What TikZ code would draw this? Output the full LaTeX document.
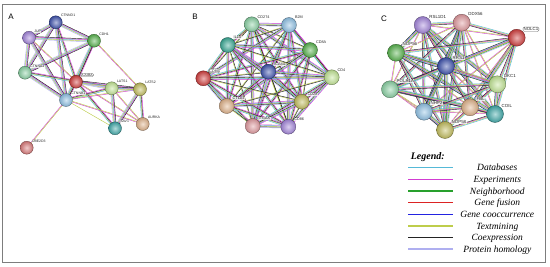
\documentclass[tikz,border=0pt]{standalone}
\usepackage{fontspec}
\setmainfont{Liberation Serif}
\setsansfont{Liberation Sans}
\usetikzlibrary{calc}
\pgfdeclarelayer{bg}
\pgfsetlayers{bg,main}
% edge evidence colours
\definecolor{edb}{RGB}{85,185,215}
\definecolor{eex}{RGB}{210,60,210}
\definecolor{enb}{RGB}{40,160,45}
\definecolor{efu}{RGB}{220,35,35}
\definecolor{eoc}{RGB}{35,35,225}
\definecolor{etm}{RGB}{190,205,75}
\definecolor{eco}{RGB}{35,35,35}
\definecolor{ehom}{RGB}{175,175,240}
% node colours
\definecolor{nblue}{RGB}{65,85,175}
\definecolor{npurple}{RGB}{165,135,220}
\definecolor{ngreen}{RGB}{90,180,80}
\definecolor{nmint}{RGB}{140,210,165}
\definecolor{nred}{RGB}{210,65,65}
\definecolor{nsky}{RGB}{145,195,230}
\definecolor{nlime}{RGB}{195,230,150}
\definecolor{nolive}{RGB}{195,190,95}
\definecolor{nteal}{RGB}{65,170,170}
\definecolor{ntan}{RGB}{225,180,140}
\definecolor{npink}{RGB}{220,125,125}
\definecolor{nrose}{RGB}{225,155,160}
\definecolor{nsea}{RGB}{60,170,150}
\definecolor{frame}{RGB}{125,125,125}
\def\LA{edb,eex,etm,eco,ehom}
\def\LB{etm,eco,edb,eex}
\def\LC{eex,etm}
\def\LD{etm}
\def\LE{etm,eco}
\def\LF{etm,edb,eco,eex,ehom}
\def\LG{eex,etm,edb,enb,eco,ehom}
\def\LH{eex,etm,eco,edb}
\newcommand{\edg}[3]{%
  \foreach \ec [count=\ei] in #3 {%
    \pgfmathsetmacro{\eoff}{(mod(\ei,2)==0 ? 1 : -1)*floor(\ei/2)*0.7}%
    \draw[\ec, line width=0.45pt] ($(#1)!\eoff pt!90:(#2)$) -- ($(#2)!\eoff pt!-90:(#1)$);%
  }%
}
\tikzset{
  prot/.style={circle, inner sep=0pt, line width=0.35pt},
  sph/.style={shading=radial, inner color=#1!40!white, outer color=#1!88!black, draw=#1!50!black},
  pA/.style={prot, minimum size=13pt},
  pB/.style={prot, minimum size=15pt},
  pC/.style={prot, minimum size=17pt},
  halo/.style={fill=white, fill opacity=0.75, text opacity=1, inner sep=0.4pt, text=black!85},
  labA/.style={halo, font=\sffamily\fontsize{3.5}{4}\selectfont},
  labB/.style={halo, font=\sffamily\fontsize{3.8}{4.4}\selectfont},
  labC/.style={halo, font=\sffamily\fontsize{4.4}{5}\selectfont},
  qbox/.style={draw=black!60, fill=white, fill opacity=1, rounded corners=1.2pt, inner sep=0.6pt, line width=0.3pt},
  panel/.style={font=\sffamily\fontsize{8}{9}\selectfont},
  legtxt/.style={font=\itshape\fontsize{9.5}{11}\selectfont, anchor=base},
}
\begin{document}
\begin{tikzpicture}[x=1pt,y=-1pt]
\useasboundingbox (0,0) rectangle (550,267);
\begin{pgfonlayer}{bg}
\fill[white] (0,0) rectangle (550,267);
\end{pgfonlayer}
\draw[frame, line width=1.5pt] (2.5,4.5) rectangle (545.5,262.5);
% panel letters
\node[panel] (lblA) at (11,16.7) {A};
\node[panel] (lblB) at (195,16.7) {B};
\node[panel] (lblC) at (384,18.3) {C};
% ---------- panel A ----------
\node[pA, sph=nblue, label={[labA]45:CTNND1}] (aCTNND1) at (55.7,22.3) {};
\node[pA, sph=npurple, label={[labA]45:JUP}] (aJUP) at (29,37.7) {};
\node[pA, sph=ngreen, label={[labA]45:CDH1}] (aCDH1) at (94,40.7) {};
\node[pA, sph=nmint, label={[labA]45:CTNNA1}] (aCTNNA1) at (25,72.7) {};
\node[pA, sph=nred, label={[labA,qbox]45:AJUBA}] (aAJUBA) at (76,81.7) {};
\node[pA, sph=nsky, label={[labA]45:CTNNB1}] (aCTNNB1) at (66,100) {};
\node[pA, sph=nlime, label={[labA]45:LATS1}] (aLATS1) at (111.7,88.3) {};
\node[pA, sph=nolive, label={[labA]45:LATS2}] (aLATS2) at (140,89.3) {};
\node[pA, sph=nteal, label={[labA]45:SAV1}] (aSAV1) at (115,128.3) {};
\node[pA, sph=ntan, label={[labA]45:AURKA}] (aAURKA) at (142.7,124) {};
\node[pA, sph=npink, label={[labA]45:UBE2D3}] (aUBE2D3) at (26.7,147.7) {};
% ---------- panel B ----------
\node[pB, sph=nmint, label={[labB]45:CD274}] (bCD274) at (251.7,24.3) {};
\node[pB, sph=nsky, label={[labB]45:B2M}] (bB2M) at (289,25) {};
\node[pB, sph=ngreen, label={[labB]45:CD8A}] (bCD8A) at (310,50) {};
\node[pB, sph=nsea, label={[labB]45:IL10}] (bIL10) at (227.7,45) {};
\node[pB, sph=nblue, label={[labB]45:ICAM1}] (bICAM1) at (268.3,71.7) {};
\node[pB, sph=nlime, label={[labB]45:CD4}] (bCD4) at (331.7,77.3) {};
\node[pB, sph=nred, label={[labB,qbox]45:CD80}] (bCD80) at (203.3,78.3) {};
\node[pB, sph=ntan, label={[labB]45:CTLA4}] (bCTLA4) at (226.7,106) {};
\node[pB, sph=nolive, label={[labB]45:CD28}] (bCD28) at (301.7,101.7) {};
\node[pB, sph=nrose, label={[labB]45:ITGAX}] (bITGAX) at (252.7,126) {};
\node[pB, sph=npurple, label={[labB]45:CD86}] (bCD86) at (288.3,126.7) {};
% ---------- panel C ----------
\node[pC, sph=npurple, label={[labC]45:RSL1D1}] (cRSL1D1) at (422.7,25) {};
\node[pC, sph=nrose, label={[labC]45:DDX56}] (cDDX56) at (461.7,22.7) {};
\node[pC, sph=nred, label={[labC,qbox]45:NOLC1}] (cNOLC1) at (516.7,37.7) {};
\node[pC, sph=ngreen, label={[labC]45:NOP56}] (cNOP56) at (396,52.7) {};
\node[pC, sph=nblue, label={[labC]45:RRS1}] (cRRS1) at (446,66) {};
\node[pC, sph=nmint, label={[labC]45:POLR1A}] (cPOLR1A) at (390,89.3) {};
\node[pC, sph=nlime, label={[labC]45:DKC1}] (cDKC1) at (497.3,84.3) {};
\node[pC, sph=nsky, label={[labC]45:NHP2}] (cNHP2) at (424,111.7) {};
\node[pC, sph=ntan, label={[labC]45:FBL}] (cFBL) at (470,107.3) {};
\node[pC, sph=nteal, label={[labC]45:COIL}] (cCOIL) at (495,114) {};
\node[pC, sph=nolive, label={[labC]45:NOP58}] (cNOP58) at (445,130) {};
% ---------- edges ----------
\begin{pgfonlayer}{bg}
\edg{aCTNND1}{aJUP}{\LA}
\edg{aCTNND1}{aCDH1}{\LA}
\edg{aCTNND1}{aCTNNA1}{\LA}
\edg{aCTNND1}{aAJUBA}{\LB}
\edg{aCTNND1}{aCTNNB1}{\LA}
\edg{aJUP}{aCDH1}{\LA}
\edg{aJUP}{aCTNNA1}{\LA}
\edg{aJUP}{aCTNNB1}{\LA}
\edg{aJUP}{aAJUBA}{\LC}
\edg{aCDH1}{aCTNNA1}{\LA}
\edg{aCDH1}{aCTNNB1}{\LA}
\edg{aCDH1}{aAJUBA}{\LB}
\edg{aCDH1}{aLATS2}{\LC}
\edg{aCTNNA1}{aCTNNB1}{\LA}
\edg{aCTNNA1}{aAJUBA}{\LB}
\edg{aAJUBA}{aCTNNB1}{\LB}
\edg{aAJUBA}{aLATS1}{\LA}
\edg{aAJUBA}{aLATS2}{\LA}
\edg{aAJUBA}{aSAV1}{\LB}
\edg{aAJUBA}{aAURKA}{\LC}
\edg{aCTNNB1}{aLATS1}{\LB}
\edg{aCTNNB1}{aLATS2}{\LC}
\edg{aCTNNB1}{aSAV1}{\LD}
\edg{aCTNNB1}{aAURKA}{\LC}
\edg{aCTNNB1}{aUBE2D3}{\LC}
\edg{aLATS1}{aLATS2}{\LA}
\edg{aLATS1}{aSAV1}{\LA}
\edg{aLATS1}{aAURKA}{\LC}
\edg{aLATS2}{aSAV1}{\LA}
\edg{aLATS2}{aAURKA}{\LB}
\foreach \u [count=\i] in {bCD274,bB2M,bCD8A,bIL10,bICAM1,bCD4,bCD80,bCTLA4,bCD28,bITGAX,bCD86} {
  \foreach \v [count=\j] in {bCD274,bB2M,bCD8A,bIL10,bICAM1,bCD4,bCD80,bCTLA4,bCD28,bITGAX,bCD86} {
    \ifnum\j>\i
      \pgfmathtruncatemacro\kk{mod(\i*3+\j,4)}%
      \ifcase\kk \edg{\u}{\v}{\LB}\or \edg{\u}{\v}{\LF}\or \edg{\u}{\v}{\LE}\or \edg{\u}{\v}{\LB}\fi
    \fi
  }
}
\foreach \u [count=\i] in {cRSL1D1,cDDX56,cNOLC1,cNOP56,cRRS1,cPOLR1A,cDKC1,cNHP2,cFBL,cCOIL,cNOP58} {
  \foreach \v [count=\j] in {cRSL1D1,cDDX56,cNOLC1,cNOP56,cRRS1,cPOLR1A,cDKC1,cNHP2,cFBL,cCOIL,cNOP58} {
    \ifnum\j>\i
      \pgfmathtruncatemacro\kk{mod(\i*2+\j,3)}%
      \ifcase\kk \edg{\u}{\v}{\LG}\or \edg{\u}{\v}{\LH}\or \edg{\u}{\v}{\LC}\fi
    \fi
  }
}
\end{pgfonlayer}
% ---------- legend ----------
\node[font=\bfseries\itshape\fontsize{10}{12}\selectfont] (legtitle) at (427.7,157.3) {Legend:};
\foreach \t/\col [count=\k] in {Databases/edb, Experiments/eex, Neighborhood/enb, Gene fusion/efu, Gene cooccurrence/eoc, Textmining/etm, Coexpression/eco, Protein homology/ehom} {
  \pgfmathsetmacro\yy{167.7+(\k-1)*11.65}
  \draw[\col, line width=1.5pt] (408.3,\yy) -- (452.7,\yy);
  \node[legtxt] (leg\k) at (497.3,\yy+3.2) {\t};
}
\end{tikzpicture}
\end{document}
